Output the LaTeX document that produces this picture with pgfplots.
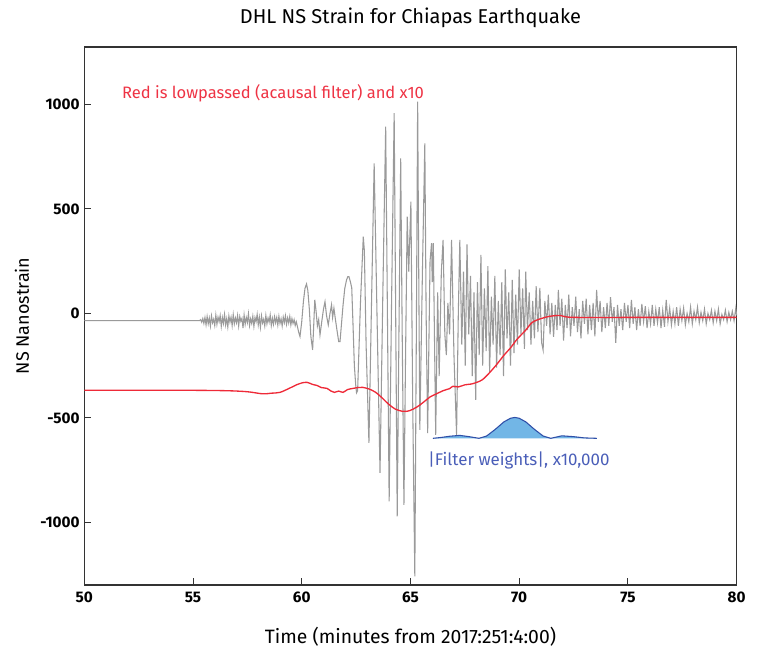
\documentclass[border=0pt]{standalone}
\usepackage{fontspec}
\setmainfont{Fira Sans}
\usepackage{pgfplots}
\pgfplotsset{compat=1.18}
\definecolor{graysig}{HTML}{9A9A9A}
\definecolor{redsig}{HTML}{EE2A38}
\definecolor{redtxt}{HTML}{EE3344}
\definecolor{bluetxt}{HTML}{4A5EB8}
\definecolor{filtline}{HTML}{2F4FA8}
\definecolor{filtfill}{HTML}{72B6E6}
\definecolor{axcol}{HTML}{333333}
\begin{document}
\begin{tikzpicture}
\path[use as bounding box] (-63.2pt,-48pt) rectangle (506.8pt,438.75pt);
\begin{axis}[
  scale only axis,
  width=489.3pt, height=403.5pt,
  at={(0,0)}, anchor=south west,
  xmin=50, xmax=80, ymin=-1300, ymax=1275,
  xtick={50,55,...,80}, ytick={-1000,-500,0,500,1000},
  tick pos=left, tick align=inside,
  major tick length=5pt,
  axis line style={axcol, line width=0.9pt},
  every tick/.style={axcol, line width=0.7pt},
  /pgf/number format/assume math mode=true,
  /pgf/number format/1000 sep={},
  ticklabel style={font=\fontsize{11.5}{13}\selectfont\bfseries, text=black},
  xticklabel style={yshift=-2pt},
  clip=false,
]
% gray raw signal
\addplot[graysig, line width=0.8pt] coordinates {
(50,-35) (55.3,-35)
(55.35,-30) (55.40,-42) (55.45,-25) (55.50,-48) (55.55,-20) (55.60,-55) (55.65,-15) (55.70,-50) (55.75,-22) (55.80,-60)
(55.85,-12) (55.90,-45) (55.95,-28) (56.00,-58) (56.05,-8) (56.10,-52) (56.15,-18) (56.20,-40) (56.25,-10) (56.30,-62)
(56.35,-20) (56.40,-48) (56.45,-5) (56.50,-55) (56.55,-25) (56.60,-65) (56.65,-12) (56.70,-42) (56.75,-18) (56.80,-58)
(56.85,-6) (56.90,-50) (56.95,-22) (57.00,-45) (57.05,-10) (57.10,-60) (57.15,-15) (57.20,-38) (57.25,-24) (57.30,-70)
(57.35,-8) (57.40,-52) (57.45,-20) (57.50,-44) (57.55,-2) (57.60,-58) (57.65,-26) (57.70,-48) (57.75,-14) (57.80,-62)
(57.85,-20) (57.90,-40) (57.95,-5) (58.00,-55) (58.05,-18) (58.10,-66) (58.15,-12) (58.20,-46) (58.25,-28) (58.30,-60)
(58.35,-10) (58.40,-50) (58.45,-22) (58.50,-42) (58.55,-8) (58.60,-58) (58.65,-24) (58.70,-52) (58.75,-16) (58.80,-45)
(58.85,-20) (58.90,-56) (58.95,-14) (59.00,-48) (59.05,-26) (59.10,-60) (59.15,-18) (59.20,-44) (59.25,-12) (59.30,-52)
(59.35,-22) (59.40,-46) (59.45,-15) (59.50,-55) (59.55,-25) (59.60,-48) (59.65,-30) (59.70,-58) (59.75,-40) (59.80,-62)
(59.86,-90) (59.92,-111) (60.00,-40) (60.08,60) (60.15,120) (60.22,141) (60.28,110) (60.35,20) (60.42,-110) (60.50,-175)
(60.55,-60) (60.60,65) (60.66,10) (60.72,-60) (60.78,-30) (60.84,-103) (60.92,-40) (61.00,20) (61.07,56) (61.14,-10)
(61.22,-55) (61.30,0) (61.37,41) (61.42,-20) (61.48,25) (61.55,-30) (61.62,-80) (61.70,-135) (61.76,-135) (61.82,-60)
(61.90,40) (61.98,120) (62.06,160) (62.12,176) (62.17,176) (62.24,150) (62.30,122) (62.36,-60) (62.42,-250) (62.48,-340)
(62.52,-380) (62.57,-370)
(62.70,50) (62.83,367) (62.88,300) (62.96,-150) (63.09,-620) (63.20,0) (63.33,718) (63.46,0) (63.60,-763) (63.73,100)
(63.86,894) (63.94,0) (64.02,-900) (64.13,50) (64.25,958) (64.32,0) (64.39,-972) (64.47,-100) (64.55,742) (64.62,-100)
(64.70,-916) (64.78,-150) (64.85,463) (64.92,200) (65.02,535) (65.10,-400) (65.20,-1259) (65.27,-100) (65.33,1013) (65.38,200)
(65.43,-557) (65.55,200) (65.66,814) (65.72,0) (65.79,-573) (65.90,250) (65.97,336) (66.00,150) (66.05,336) (66.16,-581)
(66.25,100) (66.32,-300) (66.42,200) (66.50,352) (66.58,-100) (66.65,-200) (66.72,50) (66.80,-100) (66.89,352) (67.00,-200)
(67.12,-581) (67.20,0) (67.27,352)
(67.36,-150) (67.44,200) (67.52,-250) (67.60,330) (67.68,-100) (67.76,180) (67.84,-300) (67.92,100) (68.00,-414) (68.08,150)
(68.16,-200) (68.24,280) (68.32,-250) (68.40,120) (68.48,-180) (68.56,226) (68.64,-280) (68.72,80) (68.80,-150) (68.88,180)
(68.96,-260) (69.04,60) (69.12,-200) (69.20,150) (69.28,-300) (69.36,210) (69.44,-120) (69.52,100) (69.60,-250) (69.68,160)
(69.76,-190) (69.84,90) (69.92,-150) (70.00,210) (70.08,-100) (70.16,120) (70.24,-170) (70.30,200) (70.38,-80) (70.46,100)
(70.54,-150) (70.62,60) (70.70,-120) (70.78,130) (70.86,-90) (70.95,122) (71.03,-140) (71.10,-175) (71.18,60) (71.26,-60)
(71.34,90) (71.42,-100) (71.50,50) (71.58,-112) (71.66,40) (71.74,-80) (71.80,112) (71.88,-60) (71.96,70) (72.04,-130)
(72.12,40) (72.20,-70) (72.28,90) (72.36,-110) (72.44,30) (72.52,-60) (72.60,80) (72.68,-90) (72.76,20) (72.84,-120)
(72.92,60) (73.00,-50) (73.08,70) (73.16,-100) (73.24,40) (73.32,-80) (73.40,50) (73.48,-110) (73.56,112) (73.64,-40)
(73.72,60) (73.80,-90) (73.88,30) (73.96,-70) (74.04,50) (74.12,-60) (74.20,78) (74.28,-40) (74.36,30) (74.44,-141)
(74.52,40) (74.60,-60) (74.68,20) (74.76,-80) (74.84,50) (74.92,-40) (75.00,40) (75.08,-70) (75.16,65) (75.24,-50)
(75.32,30) (75.40,-80) (75.48,20) (75.56,-60) (75.64,45) (75.72,-40) (75.80,35) (75.88,-70) (75.96,10) (76.04,-50)
(76.12,40) (76.20,-60) (76.28,20) (76.36,-45) (76.44,30) (76.52,-70) (76.60,15) (76.68,-64) (76.76,65) (76.84,-40)
(76.92,25) (77.00,-55) (77.08,10) (77.16,-50) (77.24,30) (77.32,-60) (77.40,20) (77.48,-35) (77.56,25) (77.64,-55)
(77.72,0) (77.80,-40) (77.88,30) (77.96,-50) (78.04,10) (78.12,-30) (78.20,30) (78.28,-45) (78.36,5) (78.44,-35)
(78.52,20) (78.60,-50) (78.68,0) (78.76,-30) (78.84,15) (78.92,-45) (79.00,10) (79.08,-35) (79.16,20) (79.24,-50)
(79.32,-5) (79.40,-30) (79.48,15) (79.56,-40) (79.64,5) (79.72,-30) (79.80,10) (79.88,-35) (79.96,25) (80.00,-10)
};
% red lowpassed
\addplot[redsig, line width=1pt, smooth] coordinates {
(50,-368) (54.5,-368) (56.5,-370) (57.5,-375) (58.2,-385) (58.6,-382) (59.0,-378) (59.4,-360) (59.8,-340) (60.0,-333)
(60.24,-330) (60.5,-340) (60.7,-345) (60.9,-355) (61.16,-359) (61.35,-372) (61.5,-378) (61.7,-372) (61.9,-378) (62.1,-365)
(62.36,-359) (62.6,-355) (62.8,-354) (63.1,-362) (63.4,-378) (63.7,-405) (64.0,-435) (64.3,-458) (64.6,-468) (64.8,-469)
(65.0,-464) (65.3,-448) (65.6,-425) (65.9,-400) (66.2,-385) (66.5,-370) (66.8,-360) (66.95,-349) (67.2,-352) (67.5,-342)
(67.8,-338) (68.05,-330) (68.3,-318) (68.6,-288) (68.97,-244) (69.3,-200) (69.6,-165) (69.9,-124) (70.3,-80) (70.6,-43)
(71.0,-25) (71.4,-14) (71.9,-10) (72.5,-19) (76,-19) (80,-19)
};
% filter weights fill
\addplot[draw=none, fill=filtfill] coordinates {
(66.03,-598) (66.4,-594) (66.8,-588) (67.27,-584) (67.7,-590) (68.15,-598) (68.5,-587) (68.9,-555) (69.3,-519) (69.6,-502)
(69.8,-498) (70.0,-502) (70.3,-519) (70.7,-555) (71.1,-587) (71.45,-598) (71.96,-586) (72.5,-590) (73.0,-596) (73.57,-598)
} -- cycle;
\addplot[filtline, line width=0.8pt] coordinates {
(66.03,-598) (66.4,-594) (66.8,-588) (67.27,-584) (67.7,-590) (68.15,-598) (68.5,-587) (68.9,-555) (69.3,-519) (69.6,-502)
(69.8,-498) (70.0,-502) (70.3,-519) (70.7,-555) (71.1,-587) (71.45,-598) (71.96,-586) (72.5,-590) (73.0,-596) (73.57,-598)
};
% texts
\node[anchor=center, font=\fontsize{15}{18}\selectfont] at (axis cs:65,1414) {DHL NS Strain for Chiapas Earthquake};
\node[anchor=center, font=\fontsize{14.5}{17}\selectfont] at (axis cs:65,-1548) {Time (minutes from 2017:251:4:00)};
\node[anchor=center, rotate=90, font=\fontsize{13.5}{16}\selectfont] at (axis cs:47.14,-12) {NS Nanostrain};
\node[anchor=west, inner sep=0pt, text=redtxt, font=\fontsize{12.4}{15}\selectfont] at (axis cs:51.73,1055) {Red is lowpassed (acausal filter) and x10};
\node[anchor=west, inner sep=0pt, text=bluetxt, font=\fontsize{12.7}{15}\selectfont] at (axis cs:65.80,-706) {|Filter weights|, x10,000};
\end{axis}
\end{tikzpicture}
\end{document}
